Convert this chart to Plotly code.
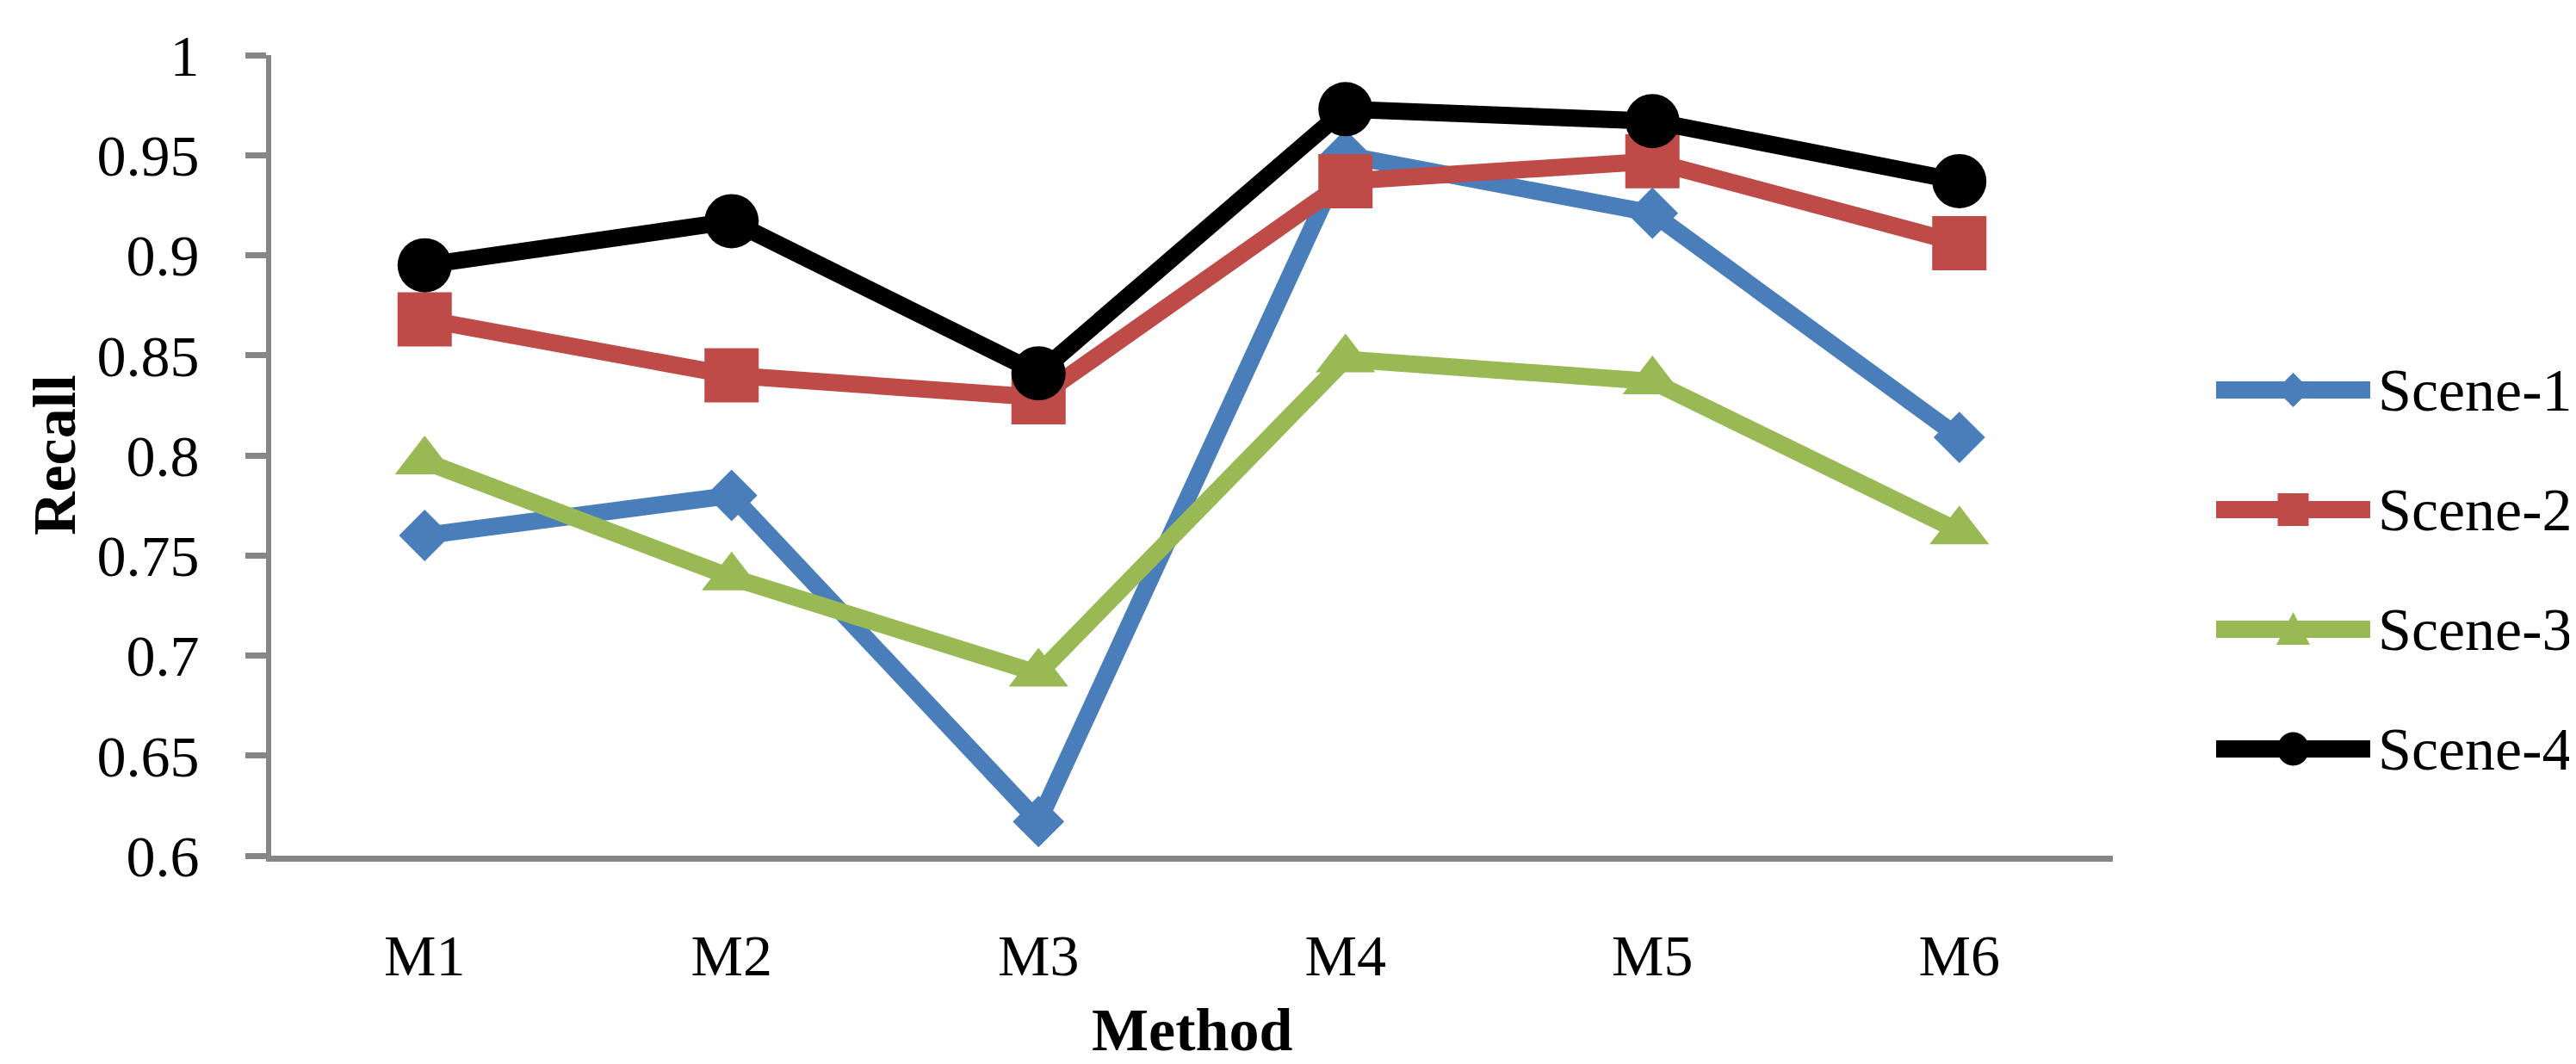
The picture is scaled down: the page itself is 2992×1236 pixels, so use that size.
import plotly.graph_objects as go

# ---- data ----
methods = ["M1", "M2", "M3", "M4", "M5", "M6"]
series_names = ["Scene-1", "Scene-2", "Scene-3", "Scene-4"]
scene1 = [0.760, 0.780, 0.617, 0.950, 0.921, 0.809]
scene2 = [0.868, 0.840, 0.829, 0.937, 0.947, 0.906]
scene3 = [0.797, 0.739, 0.691, 0.848, 0.837, 0.762]
scene4 = [0.895, 0.917, 0.841, 0.973, 0.967, 0.937]
y_ticks = [0.6, 0.65, 0.7, 0.75, 0.8, 0.85, 0.9, 0.95, 1.0]
y_tick_labels = ["0.6", "0.65", "0.7", "0.75", "0.8", "0.85", "0.9", "0.95", "1"]

# ---- styles ----
colors = ["#4A7EBB", "#BE4B48", "#98B954", "#000000"]
symbols = ["diamond", "square", "triangle-up", "circle"]
msizes = [46, 63, 60, 63]
FONT = "Liberation Serif"
W, H = 2992, 1236
L, R, T, B = 307, 2992 - 2446, 56, 1236 - 986
AX = "#868686"

fig = go.Figure()
for name, vals, c, s, ms in zip(series_names, [scene1, scene2, scene3, scene4], colors, symbols, msizes):
    fig.add_trace(go.Scatter(
        x=methods, y=vals, name=name, mode="lines+markers",
        line=dict(color=c, width=20),
        marker=dict(symbol=s, size=ms, color=c, line=dict(width=0)),
        showlegend=False, cliponaxis=False,
    ))

# ---- manual legend (Excel style, long line with marker in middle) ----
pw = W - L - R
ph = H - T - B
def px_x(px):
    return (px - L) / pw
def px_y(py):
    return (H - B - py) / ph

leg_x0, leg_x1, leg_text_x = 2566, 2745, 2752
leg_y = [445, 584, 723, 862]
shapes = []
annotations = []
for name, c, s, yy in zip(series_names, colors, symbols, leg_y):
    yp = px_y(yy)
    shapes.append(dict(type="line", xref="paper", yref="paper",
                       x0=px_x(leg_x0), x1=px_x(leg_x1), y0=yp, y1=yp,
                       line=dict(color=c, width=20), layer="above"))
    xc = px_x((leg_x0 + leg_x1) / 2)
    common = dict(xref="paper", yref="paper", xsizemode="pixel", ysizemode="pixel",
                  xanchor=xc, yanchor=yp, fillcolor=c, line=dict(width=0), layer="above")
    if s == "circle":
        shapes.append(dict(type="circle", x0=-18.5, x1=18.5, y0=-19.5, y1=19.5, **common))
    elif s == "square":
        shapes.append(dict(type="rect", x0=-18, x1=18, y0=-19, y1=19, **common))
    elif s == "diamond":
        shapes.append(dict(type="path", path="M0,20 L20,0 L0,-20 L-20,0 Z", **common))
    else:
        shapes.append(dict(type="path", path="M0,20 L19.5,-18 L-19.5,-18 Z", **common))
    annotations.append(dict(xref="paper", yref="paper", x=px_x(leg_text_x), y=yp,
                            text=name, showarrow=False, xanchor="left", yanchor="middle",
                            font=dict(family=FONT, size=70, color="black")))

# axis titles
annotations.append(dict(xref="paper", yref="paper", x=px_x(55), y=0.5, text="<b>Recall</b>",
                        textangle=-90, showarrow=False, xanchor="center", yanchor="middle",
                        font=dict(family=FONT, size=70, color="black")))
annotations.append(dict(xref="paper", yref="paper", x=0.5, y=px_y(1188), text="<b>Method</b>",
                        showarrow=False, xanchor="center", yanchor="middle",
                        font=dict(family=FONT, size=70, color="black")))

fig.update_layout(
    width=W, height=H, autosize=False,
    margin=dict(l=L, r=R, t=T, b=B, pad=0),
    paper_bgcolor="white", plot_bgcolor="white",
    font=dict(family=FONT, size=68, color="black"),
    shapes=shapes, annotations=annotations,
    showlegend=False,
)
fig.update_xaxes(
    type="category", range=[-0.5, 5.5], showgrid=False, zeroline=False,
    showline=True, linecolor=AX, linewidth=7, ticks="",
    tickfont=dict(family=FONT, size=68, color="black"), ticklabelstandoff=50,
)
fig.update_yaxes(
    range=[0.6, 1.0], tickvals=y_ticks, ticktext=y_tick_labels,
    showgrid=False, zeroline=False, showline=True, linecolor=AX, linewidth=6,
    ticks="outside", ticklen=24, tickwidth=7, tickcolor=AX,
    tickfont=dict(family=FONT, size=68, color="black"), ticklabelstandoff=40,
)

fig.write_html("out.html", config={"displayModeBar": False})
